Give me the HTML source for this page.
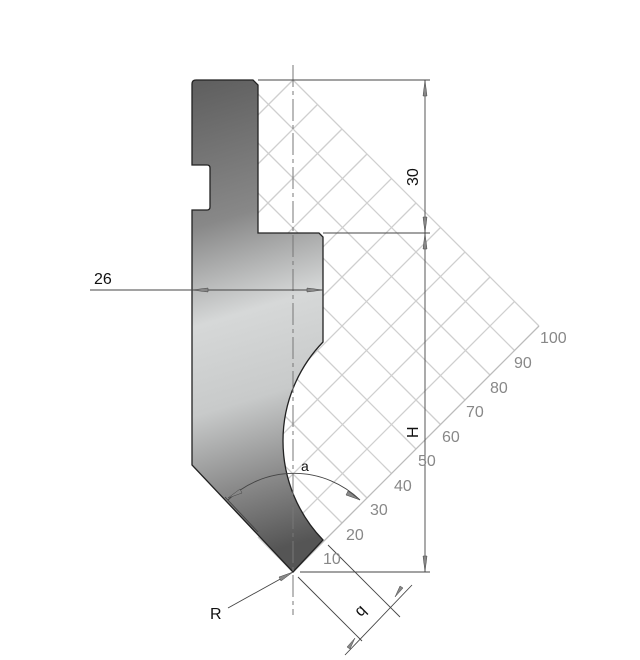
<!DOCTYPE html>
<html><head><meta charset="utf-8"><style>html,body{margin:0;padding:0;background:#fff;width:640px;height:660px;overflow:hidden}svg{display:block}</style></head>
<body>
<svg width="640" height="660" viewBox="0 0 640 660" xmlns="http://www.w3.org/2000/svg" font-family="Liberation Sans, sans-serif">
<defs>
<linearGradient id="g" x1="0" y1="0" x2="0.08" y2="1">
<stop offset="0" stop-color="#5e5e5e"/>
<stop offset="0.3" stop-color="#888"/>
<stop offset="0.5" stop-color="#d6d8d8"/>
<stop offset="0.68" stop-color="#c8caca"/>
<stop offset="0.85" stop-color="#8a8a8a"/>
<stop offset="1" stop-color="#555"/>
</linearGradient>
</defs>
<g stroke="#cfcfcf" stroke-width="1.3">
<line x1="258" y1="537" x2="293" y2="572"/>
<line x1="258" y1="488" x2="317.5" y2="547.5"/>
<line x1="258" y1="439" x2="342" y2="523"/>
<line x1="258" y1="389" x2="367" y2="498"/>
<line x1="258" y1="340" x2="391.5" y2="473.5"/>
<line x1="258" y1="291" x2="416" y2="449"/>
<line x1="258" y1="242" x2="440.5" y2="424.5"/>
<line x1="258" y1="193" x2="465" y2="400"/>
<line x1="258" y1="143" x2="490" y2="375"/>
<line x1="258" y1="94" x2="514.5" y2="350.5"/>
<line x1="293" y1="80" x2="539" y2="326"/>
<line x1="258" y1="115" x2="293" y2="80"/>
<line x1="258" y1="164" x2="317.5" y2="104.5"/>
<line x1="258" y1="213" x2="342" y2="129"/>
<line x1="258" y1="263" x2="367" y2="154"/>
<line x1="258" y1="312" x2="391.5" y2="178.5"/>
<line x1="258" y1="361" x2="416" y2="203"/>
<line x1="258" y1="410" x2="440.5" y2="227.5"/>
<line x1="258" y1="459" x2="465" y2="252"/>
<line x1="258" y1="509" x2="490" y2="277"/>
<line x1="268.5" y1="547.5" x2="514.5" y2="301.5"/>
</g>
<line x1="539" y1="326" x2="293" y2="572" stroke="#bbb" stroke-width="1.3"/>
<path d="M196,80 L253,80 L258,85 L258,233 L319,233 L323,237 L323,342 A142.5 142.5 0 0 0 323,540 L293,572 L192,465 L192,210 L207,210 Q210,210 210,207 L210,168 Q210,165 207,165 L192,165 L192,84 Q192,80 196,80 Z" fill="url(#g)" stroke="#222" stroke-width="1.3"/>
<line x1="293" y1="65" x2="293" y2="615" stroke="#777" stroke-width="1" stroke-dasharray="22,4,4,4"/>
<g stroke="#444" stroke-width="0.9" fill="none">
<line x1="258" y1="80" x2="430" y2="80"/>
<line x1="323" y1="233" x2="430" y2="233"/>
<line x1="300" y1="572" x2="430" y2="572"/>
<line x1="425" y1="80" x2="425" y2="572"/>
<line x1="90" y1="290" x2="323" y2="290"/>
<path d="M228,500 A95 95 0 0 1 360,500"/>
<line x1="228" y1="608" x2="293" y2="572"/>
<line x1="328" y1="545" x2="400" y2="617"/>
<line x1="298" y1="577" x2="362" y2="641"/>
<line x1="345" y1="655" x2="412" y2="585"/>
<line x1="225" y1="497" x2="258" y2="532"/>
</g>
<g fill="#888" stroke="#444" stroke-width="0.5">
<polygon points="425,80 423,96 427,96"/><polygon points="425,233 423,217 427,217"/><polygon points="425,233 423,249 427,249"/><polygon points="425,572 423,556 427,556"/>
<polygon points="192,290 208,288 208,292"/><polygon points="323,290 307,288 307,292"/>
<polygon points="293,572 279,577 281,581"/>
<polygon points="395,597 403,588 400,586"/><polygon points="355,638 347,647 350,649"/>
<polygon points="228,498 240,489 242,493"/><polygon points="360,500 348,491 346,495"/>
</g>
<g font-size="16" fill="#111">
<text x="94" y="284">26</text>
<text x="210" y="619">R</text>
<text x="301" y="471" font-size="14">a</text>
<text transform="translate(418,186) rotate(-90)">30</text>
<text transform="translate(418,438) rotate(-90)">H</text>
<text transform="translate(361,605) rotate(135)">b</text>
</g>
<g font-size="16" fill="#888">
<text x="323" y="564">10</text>
<text x="346" y="540">20</text>
<text x="370" y="515">30</text>
<text x="394" y="491">40</text>
<text x="418" y="466">50</text>
<text x="442" y="442">60</text>
<text x="466" y="417">70</text>
<text x="490" y="393">80</text>
<text x="514" y="368">90</text>
<text x="540" y="343">100</text>
</g>
</svg>
</body></html>
